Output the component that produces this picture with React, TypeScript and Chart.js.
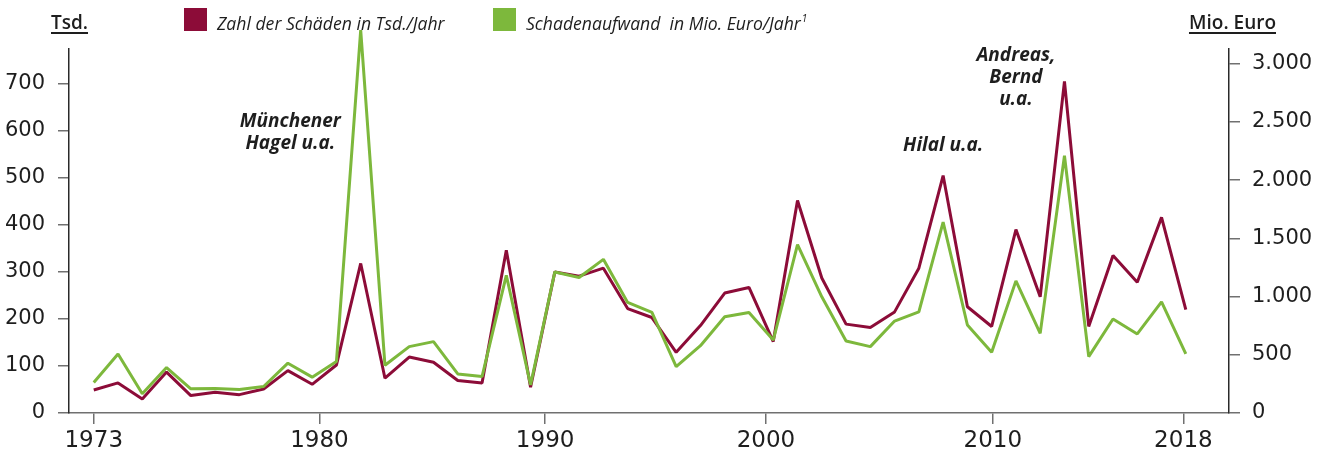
import React, { useEffect, useRef } from 'react';
import { Chart, registerables } from 'chart.js';

Chart.register(...registerables);

const years = [
  1973, 1974, 1975, 1976, 1977, 1978, 1979, 1980, 1981, 1982,
  1983, 1984, 1985, 1986, 1987, 1988, 1989, 1990, 1991, 1992,
  1993, 1994, 1995, 1996, 1997, 1998, 1999, 2000, 2001, 2002,
  2003, 2004, 2005, 2006, 2007, 2008, 2009, 2010, 2011, 2012,
  2013, 2014, 2015, 2016, 2017, 2018,
];

// Zahl der Schäden in Tsd./Jahr (left axis)
const claimsThousands = [
  49, 64, 30, 87, 37, 44, 39, 51, 90, 61,
  102, 318, 74, 119, 108, 69, 64, 346, 55, 300,
  291, 308, 222, 203, 129, 186, 255, 267, 152, 452,
  287, 189, 182, 215, 308, 505, 226, 184, 390, 247,
  705, 184, 335, 278, 416, 220,
];

// Schadenaufwand in Mio. Euro/Jahr (right axis)
const costMillionEuro = [
  262, 507, 165, 390, 208, 211, 202, 228, 428, 308,
  442, 3290, 410, 570, 613, 336, 313, 1183, 242, 1212,
  1164, 1320, 950, 864, 399, 578, 827, 864, 627, 1446,
  998, 619, 570, 790, 869, 1640, 756, 522, 1135, 684,
  2210, 484, 807, 679, 955, 507,
];

const xTickPositions = [1973, 1982.3, 1991.6, 2000.7, 2010.05, 2017.9];
const xTickLabels = ['1973', '1980', '1990', '2000', '2010', '2018'];
const leftTicks = [0, 100, 200, 300, 400, 500, 600, 700];
const rightTicks = [0, 500, 1000, 1500, 2000, 2500, 3000];

const legendLabels = ['Zahl der Schäden in Tsd./Jahr', 'Schadenaufwand  in Mio. Euro/Jahr'];
const leftTitle = 'Tsd.';
const rightTitle = 'Mio. Euro';

const annotations = [
  { lines: ['Münchener', 'Hagel u.a.'], year: 1981.1, value: 619 },
  { lines: ['Hilal u.a.'], year: 2008.0, value: 568 },
  { lines: ['Andreas,', 'Bernd', 'u.a.'], year: 2011.0, value: 759 },
];

const RED = '#8C0C38';
const GREEN = '#7DB83C';
const TEXT = '#1e1e1e';

const fmtDe = (v: number) => String(v).replace(/\B(?=(\d{3})+(?!\d))/g, '.');

const overlayPlugin = {
  id: 'overlay',
  afterDraw(chart: any) {
    const ctx = chart.ctx as CanvasRenderingContext2D;
    const xs = chart.scales.x;
    const yl = chart.scales.y;
    ctx.save();

    // axis titles
    ctx.fillStyle = TEXT;
    ctx.strokeStyle = TEXT;
    ctx.font = '600 19px "Open Sans"';
    ctx.textBaseline = 'alphabetic';
    ctx.textAlign = 'left';
    ctx.fillText(leftTitle, 51, 29);
    let w = ctx.measureText(leftTitle).width;
    ctx.lineWidth = 2;
    ctx.beginPath();
    ctx.moveTo(51, 33);
    ctx.lineTo(51 + w, 33);
    ctx.stroke();

    ctx.textAlign = 'right';
    ctx.fillText(rightTitle, 1276, 29);
    w = ctx.measureText(rightTitle).width;
    ctx.beginPath();
    ctx.moveTo(1276 - w, 33);
    ctx.lineTo(1276, 33);
    ctx.stroke();

    // legend
    ctx.textAlign = 'left';
    ctx.fillStyle = RED;
    ctx.fillRect(184, 8, 23, 23);
    ctx.fillStyle = GREEN;
    ctx.fillRect(493, 8, 23, 23);
    ctx.fillStyle = TEXT;
    ctx.font = 'italic 17.6px "Open Sans"';
    ctx.fillText(legendLabels[0], 217, 30);
    ctx.fillText(legendLabels[1], 526, 30);
    const lw = ctx.measureText(legendLabels[1]).width;
    ctx.font = 'italic 10px "Open Sans"';
    ctx.fillText('1', 526 + lw + 1, 22);

    // annotations
    ctx.font = 'italic bold 19px "Open Sans"';
    ctx.textAlign = 'center';
    ctx.textBaseline = 'middle';
    annotations.forEach((a) => {
      const px = xs.getPixelForValue(a.year);
      const py = yl.getPixelForValue(a.value);
      a.lines.forEach((line, i) => {
        ctx.fillText(line, px, py + i * 22);
      });
    });

    ctx.restore();
  },
};

export default function App() {
  const canvasRef = useRef<HTMLCanvasElement | null>(null);

  useEffect(() => {
    if (!canvasRef.current) return;
    const chart = new Chart(canvasRef.current, {
      type: 'line',
      data: {
        datasets: [
          {
            label: legendLabels[0],
            data: years.map((yr, i) => ({ x: yr, y: claimsThousands[i] })),
            borderColor: RED,
            backgroundColor: RED,
            borderWidth: 3,
            borderJoinStyle: 'bevel',
            pointRadius: 0,
            tension: 0,
            yAxisID: 'y',
            order: 1,
            clip: false as any,
          },
          {
            label: legendLabels[1],
            data: years.map((yr, i) => ({ x: yr, y: costMillionEuro[i] })),
            borderColor: GREEN,
            backgroundColor: GREEN,
            borderWidth: 3,
            borderJoinStyle: 'bevel',
            pointRadius: 0,
            tension: 0,
            yAxisID: 'y1',
            order: 0,
            clip: false as any,
          },
        ],
      },
      options: {
        responsive: false,
        animation: false,
        layout: { padding: { top: 49, left: 0, right: 0, bottom: 0 } },
        plugins: {
          legend: { display: false },
          tooltip: { enabled: false },
          title: { display: false },
        },
        scales: {
          x: {
            type: 'linear',
            min: 1971.98,
            max: 2019.78,
            afterBuildTicks: (s: any) => {
              s.ticks = xTickPositions.map((v) => ({ value: v }));
            },
            afterFit: (s: any) => {
              s.height = 42;
            },
            grid: {
              display: true,
              drawOnChartArea: false,
              drawTicks: true,
              tickLength: 11,
              color: '#707070',
              lineWidth: 1.5,
            },
            border: { display: true, color: '#707070', width: 1.5 },
            ticks: {
              autoSkip: false,
              maxRotation: 0,
              padding: 3,
              color: TEXT,
              font: { family: '"DejaVu Sans"', size: 23 },
              callback: (_v: any, i: number) => xTickLabels[i],
            },
          },
          y: {
            type: 'linear',
            position: 'left',
            min: 0,
            max: 774,
            afterBuildTicks: (s: any) => {
              s.ticks = leftTicks.map((v) => ({ value: v }));
            },
            afterFit: (s: any) => {
              s.width = 69;
            },
            grid: {
              display: true,
              drawOnChartArea: false,
              drawTicks: true,
              tickLength: 11,
              color: '#707070',
              lineWidth: 1.5,
            },
            border: { display: true, color: '#2a2a2a', width: 1.5 },
            ticks: {
              padding: 13,
              color: TEXT,
              font: { family: '"DejaVu Sans"', size: 21 },
              callback: (v: any) => String(v),
            },
          },
          y1: {
            type: 'linear',
            position: 'right',
            min: 0,
            max: 3127,
            afterBuildTicks: (s: any) => {
              s.ticks = rightTicks.map((v) => ({ value: v }));
            },
            afterFit: (s: any) => {
              s.width = 97;
            },
            grid: {
              display: true,
              drawOnChartArea: false,
              drawTicks: true,
              tickLength: 11,
              color: '#707070',
              lineWidth: 1.5,
            },
            border: { display: true, color: '#2a2a2a', width: 1.5 },
            ticks: {
              padding: 12,
              color: TEXT,
              font: { family: '"DejaVu Sans"', size: 21 },
              callback: (v: any) => fmtDe(Number(v)),
            },
          },
        },
      } as any,
      plugins: [overlayPlugin],
    });
    return () => chart.destroy();
  }, []);

  return (
    <div style={{ position: 'fixed', left: 0, top: 0, width: 1326, height: 455, background: '#fff' }}>
      <canvas ref={canvasRef} width={1326} height={455} />
    </div>
  );
}
